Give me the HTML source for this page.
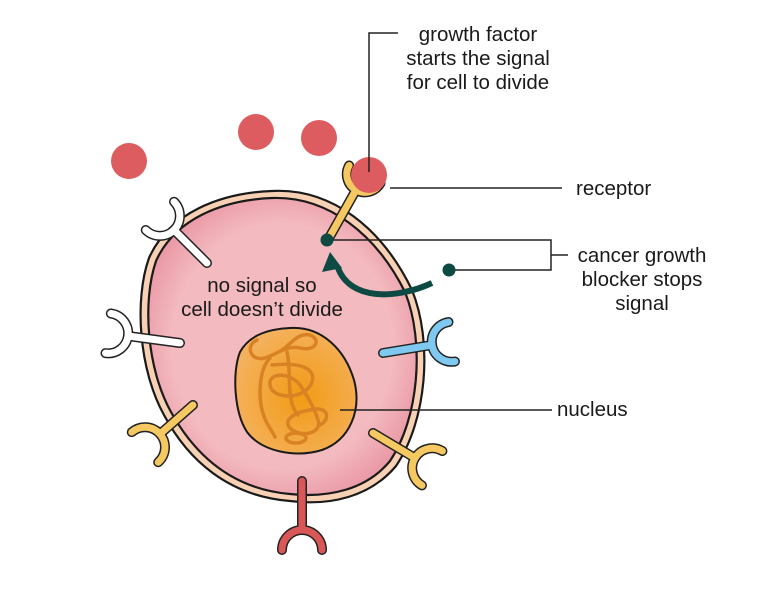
<!DOCTYPE html>
<html><head><meta charset="utf-8">
<style>
html,body{margin:0;padding:0;background:#fff;}
svg{display:block;}
text{font-family:"Liberation Sans",sans-serif;font-size:20.5px;fill:#1a1a1a;}
</style></head>
<body>
<svg id="s" width="760" height="599" viewBox="0 0 760 599" xmlns="http://www.w3.org/2000/svg">
<defs>
<radialGradient id="cg" cx="0.5" cy="0.5" r="0.55">
<stop offset="0.75" stop-color="#f3babf"/><stop offset="1" stop-color="#ea98a6"/>
</radialGradient>
<radialGradient id="ng" cx="0.55" cy="0.55" r="0.6">
<stop offset="0" stop-color="#f29b14"/><stop offset="1" stop-color="#f4b260"/>
</radialGradient>
</defs>
<path d="M272 191 C332 188 382 228 412 290 C433 342 427 420 396 466 C370 497 330 506 290 501 C228 496 188 460 164 415 C139 370 134 300 149 258 C169 213 220 193 272 191 Z" fill="#f8d0b4" stroke="#1a1a1a" stroke-width="2.2"/>
<path d="M272 198 C328 196 376 234 405 292 C425 342 419 418 390 461 C366 490 328 498 290 494 C232 489 195 455 171 412 C147 369 142 302 156 261 C175 219 222 200 272 198 Z" fill="url(#cg)" stroke="#1a1a1a" stroke-width="2.2"/>
<g id="rec2"></g>
<path d="M290 328 C322 326 345 350 354 380 C362 410 350 440 322 450 C296 458 262 452 247 432 C234 412 232 372 240 352 C250 334 270 329 290 328 Z" fill="url(#ng)" stroke="#1a1a1a" stroke-width="2"/>
<g fill="none" stroke="#d98224" stroke-width="3.5" stroke-linecap="round">
<path d="M257 340 C245 345 250 362 265 358 C278 354 286 345 300 348 C315 352 322 340 310 335 C298 332 290 345 282 350"/>
<path d="M270 358 C260 368 258 392 262 410 C266 425 272 430 275 437"/>
<path d="M272 365 C300 362 316 368 312 382 C306 400 272 400 270 385 C268 372 290 372 300 385 C310 400 315 410 318 420 C322 432 305 438 292 430 C280 420 296 412 310 410 C330 405 330 420 320 425"/>
<path d="M287 352 C292 372 285 400 298 415"/>
<ellipse cx="296" cy="438" rx="10" ry="5"/>
</g>
<text x="262" y="292" text-anchor="middle">no signal so</text>
<text x="262" y="316" text-anchor="middle">cell doesn’t divide</text>
<g fill="#dd5c60">
<circle cx="129" cy="161" r="18"/><circle cx="256" cy="132" r="18"/><circle cx="319" cy="138" r="18"/>
</g>
<g id="top"></g>
<circle cx="369" cy="175" r="18" fill="#dd5c60"/>
<g stroke="#222" stroke-width="1.5" fill="none">
<path d="M369 172 V33 H398"/>
<path d="M390 188 H562"/>
<path d="M330 240 H551 V270 H452 M551 255 H568"/>
<path d="M340 410 H552"/>
</g>
<path d="M432 283 C395 300 350 300 338 268" fill="none" stroke="#0e4a44" stroke-width="6"/>
<polygon points="330,252 322,272 342,268" fill="#0e4a44"/>
<circle cx="327" cy="240" r="6.5" fill="#0e4a44"/>
<circle cx="449" cy="270" r="6.5" fill="#0e4a44"/>
<text x="478" y="41" text-anchor="middle">growth factor</text>
<text x="478" y="65" text-anchor="middle">starts the signal</text>
<text x="478" y="89" text-anchor="middle">for cell to divide</text>
<text x="576" y="195">receptor</text>
<text x="642" y="262" text-anchor="middle">cancer growth</text>
<text x="642" y="286" text-anchor="middle">blocker stops</text>
<text x="642" y="310" text-anchor="middle">signal</text>
<text x="557" y="416">nucleus</text>
</svg>
<script>
var NS="http://www.w3.org/2000/svg";
function sweepFlag(a,b,J,C){
 var cr=(a[0]-C[0])*(J[1]-C[1])-(a[1]-C[1])*(J[0]-C[0]);
 return cr>0?1:0;
}
function Y(g,S,J,r,col){
 var dx=J[0]-S[0],dy=J[1]-S[1],L=Math.hypot(dx,dy);dx/=L;dy/=L;
 var px=-dy,py=dx;
 var C=[J[0]+r*dx,J[1]+r*dy];
 var a=[C[0]+r*px,C[1]+r*py],b=[C[0]-r*px,C[1]-r*py];
 [["#222",10],[col,7]].forEach(function(s){
  var p=document.createElementNS(NS,"path");
  p.setAttribute("d","M"+S[0]+" "+S[1]+" L"+J[0]+" "+J[1]);
  p.setAttribute("stroke",s[0]);p.setAttribute("stroke-width",s[1]);p.setAttribute("stroke-linecap","round");p.setAttribute("fill","none");
  g.appendChild(p);
  var q=document.createElementNS(NS,"path");
  q.setAttribute("d","M"+a[0]+" "+a[1]+" A"+r+" "+r+" 0 0 "+sweepFlag(a,b,J,C)+" "+b[0]+" "+b[1]);
  q.setAttribute("stroke",s[0]);q.setAttribute("stroke-width",s[1]);q.setAttribute("stroke-linecap","round");q.setAttribute("fill","none");
  g.appendChild(q);
 });
}
var g=document.getElementById("rec2"), t=document.getElementById("top");
Y(g,[207,263],[174,230],20,"#ffffff");
Y(g,[180,343],[128,336],20,"#ffffff");
Y(g,[193,405],[160,434],20,"#f6c862");
Y(g,[383,353],[432,345],20,"#7fc8ef");
Y(g,[373,433],[415,458],20,"#f6c862");
Y(g,[302,481],[302,530],20,"#d95757");
Y(t,[329,238],[356,190],18,"#f6c862");
</script>
</body></html>
